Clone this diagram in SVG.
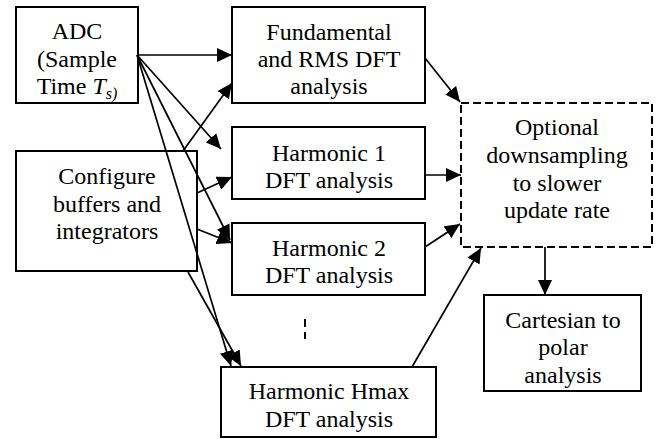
<svg xmlns="http://www.w3.org/2000/svg" width="663" height="439" viewBox="0 0 663 439">
<style>
.box{fill:#fff;stroke:#000;stroke-width:2}
.dbox{fill:#fff;stroke:#000;stroke-width:2;stroke-dasharray:8 4}
.t{font-family:"Times New Roman","Liberation Serif","DejaVu Serif",serif;font-size:24px;fill:#000;text-anchor:middle}
.c{stroke:#000;stroke-width:1.7;fill:none;marker-end:url(#ah)}
</style>
<defs>
<marker id="ah" markerUnits="userSpaceOnUse" markerWidth="16" markerHeight="14" refX="15" refY="7" orient="auto">
<path d="M0,0 L15,7 L0,14 z" fill="#000"/>
</marker>
</defs>
<g id="adc">
<rect class="box" x="16" y="7" width="122" height="96"/>
<text class="t" x="77" y="39">ADC</text>
<text class="t" x="77" y="67">(Sample</text>
<text class="t" x="77" y="94">Time <tspan font-style="italic">T</tspan><tspan font-style="italic" font-size="16" dy="5">s)</tspan></text>
</g>
<g id="configure">
<rect class="box" x="16" y="151" width="181" height="120"/>
<text class="t" x="107" y="184">Configure</text>
<text class="t" x="107" y="212">buffers and</text>
<text class="t" x="107" y="239">integrators</text>
</g>
<g id="fundamental">
<rect class="box" x="232" y="7" width="193" height="96"/>
<text class="t" x="329" y="40">Fundamental</text>
<text class="t" x="329" y="67">and RMS DFT</text>
<text class="t" x="329" y="94">analysis</text>
</g>
<g id="harmonic1">
<rect class="box" x="232" y="127" width="193" height="72"/>
<text class="t" x="329" y="161">Harmonic 1</text>
<text class="t" x="329" y="188">DFT analysis</text>
</g>
<g id="harmonic2">
<rect class="box" x="232" y="223" width="193" height="72"/>
<text class="t" x="329" y="256">Harmonic 2</text>
<text class="t" x="329" y="283">DFT analysis</text>
</g>
<g id="ellipsis">
<line x1="305" y1="319" x2="305" y2="339" stroke="#000" stroke-width="2" stroke-dasharray="8 5"/>
</g>
<g id="harmonicHmax">
<rect class="box" x="221" y="367" width="215" height="70"/>
<text class="t" x="329" y="399">Harmonic Hmax</text>
<text class="t" x="329" y="427">DFT analysis</text>
</g>
<g id="optional">
<rect class="dbox" x="461" y="103" width="191" height="144"/>
<text class="t" x="557" y="135">Optional</text>
<text class="t" x="557" y="163">downsampling</text>
<text class="t" x="557" y="191">to slower</text>
<text class="t" x="557" y="218">update rate</text>
</g>
<g id="cartesian">
<rect class="box" x="484" y="295" width="157" height="96"/>
<text class="t" x="563" y="328">Cartesian to</text>
<text class="t" x="563" y="355">polar</text>
<text class="t" x="563" y="383">analysis</text>
</g>
<g id="connectors">
<line class="c" x1="137" y1="55" x2="232" y2="55"/>
<line class="c" x1="137" y1="55" x2="221" y2="149"/>
<line class="c" x1="137" y1="55" x2="230" y2="240"/>
<line class="c" x1="137" y1="55" x2="231" y2="366"/>
<line class="c" x1="183" y1="151" x2="232" y2="83"/>
<line class="c" x1="197" y1="193" x2="232" y2="177"/>
<line class="c" x1="197" y1="229" x2="232" y2="243"/>
<line class="c" x1="188" y1="272" x2="241" y2="366"/>
<line class="c" x1="425" y1="58" x2="460" y2="102"/>
<line class="c" x1="425" y1="175" x2="461" y2="175"/>
<line class="c" x1="425" y1="247" x2="460" y2="224"/>
<line class="c" x1="412" y1="367" x2="481" y2="248"/>
<line class="c" x1="545" y1="247" x2="545" y2="295"/>
</g>
</svg>
